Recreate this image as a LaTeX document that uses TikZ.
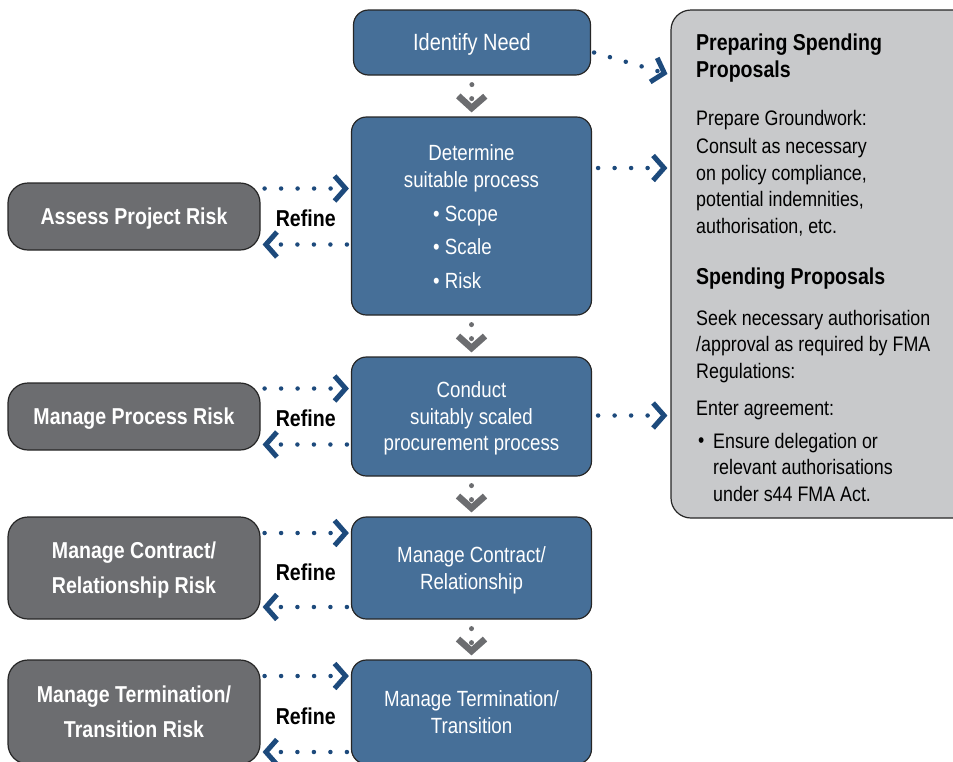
\documentclass[tikz,border=0pt]{standalone}
\usepackage{fontspec}
\setmainfont{Liberation Sans}[FakeStretch=0.85]
\usetikzlibrary{arrows.meta, positioning, calc}
\definecolor{boxblue}{RGB}{70,111,152}
\definecolor{riskgray}{RGB}{108,109,112}
\definecolor{panelgray}{RGB}{200,201,203}
\definecolor{arrowblue}{RGB}{29,74,124}

\begin{document}
\begin{tikzpicture}[x=1pt, y=-1pt,
    stagebox/.style={rectangle, rounded corners=15pt, draw=black!85, line width=1.2pt, fill=boxblue, text=white, align=center, minimum width=240pt, text depth=0pt, font=\fontsize{22}{26.5}\selectfont},
    stagetext/.style={text=white, align=center, inner sep=0pt, font=\fontsize{22}{26.5}\selectfont},
    riskbox/.style={rectangle, rounded corners=20pt, draw=black!85, line width=1.2pt, fill=riskgray, text=white, align=center, minimum width=252pt, text depth=0pt, font=\bfseries\fontsize{23}{35}\selectfont},
    panelbox/.style={rectangle, rounded corners=20pt, draw=black!85, line width=1.2pt, fill=panelgray, minimum width=314pt, minimum height=508pt},
    paneltext/.style={anchor=base west, align=left, inner sep=0pt, font=\fontsize{21}{26.5}\selectfont},
    panelhead/.style={anchor=base west, align=left, inner sep=0pt, font=\bfseries\fontsize{23}{27}\selectfont},
    refine/.style={font=\bfseries\fontsize{23}{27}\selectfont, inner sep=0pt},
    bluedots/.style={draw=arrowblue, line width=4.5pt, line cap=round, dash pattern=on 0pt off 16.5pt,
        -{Straight Barb[length=11pt, width=25pt, line width=5pt]}},
    graydots/.style={draw=riskgray, line width=5pt, line cap=round, dash pattern=on 0pt off 14pt,
        -{Straight Barb[length=12pt, width=27pt, line width=6.5pt]}, shorten <=9pt, shorten >=4pt}
]
\useasboundingbox (0,0) rectangle (953,761);

% main stages
\node[stagebox, minimum width=237pt, minimum height=65pt, text depth=2pt, font=\fontsize{23.5}{27}\selectfont] (idn) at (472,42.5) {Identify Need};
\node[stagebox, minimum height=198pt] (det) at (471.5,216) {};
\node[stagetext] (dettitle) at (471.5,168.5) {Determine\\suitable process};
\node[stagetext, align=left, anchor=west, font=\fontsize{22}{33.5}\selectfont] (detlist) at (433,247) {• Scope\\• Scale\\• Risk};
\node[stagebox, minimum height=119pt] (cond) at (471.5,416.5) {Conduct\\suitably scaled\\procurement process};
\node[stagebox, minimum height=102pt] (ctr) at (471.5,568) {Manage Contract/\\Relationship};
\node[stagebox, minimum height=104pt] (term) at (471.5,712) {Manage Termination/\\Transition};

% risks
\node[riskbox, minimum height=67pt] (arisk) at (134,216.5) {Assess Project Risk};
\node[riskbox, minimum height=67pt] (prisk) at (134,416.5) {Manage Process Risk};
\node[riskbox, minimum height=102pt] (crisk) at (134,568) {Manage Contract/\\Relationship Risk};
\node[riskbox, minimum height=104pt] (trisk) at (134,712) {Manage Termination/\\Transition Risk};

% spending proposals panel
\node[panelbox] (prep) at (828,264) {};
\node[panelhead] (prephead) at (696,77) {Preparing Spending\\Proposals};
\node[paneltext] (prepground) at (696,125) {Prepare Groundwork:};
\node[paneltext] (prepconsult) at (696,233) {Consult as necessary\\on policy compliance,\\potential indemnities,\\authorisation, etc.};
\node[panelhead] (sphead) at (696,284) {Spending Proposals};
\node[paneltext] (spseek) at (696,378) {Seek necessary authorisation\\/approval as required by FMA\\Regulations:};
\node[paneltext] (spenter) at (696,415) {Enter agreement:};
\node[paneltext] (spbullet) at (698,447) {•};
\node[paneltext] (spensure) at (713,501) {Ensure delegation or\\relevant authorisations\\under s44 FMA Act.};

% flow down
\draw[graydots] (idn.south) -- (det.north);
\draw[graydots] (det.south) -- (cond.north);
\draw[graydots] (cond.south) -- (ctr.north);
\draw[graydots] (ctr.south) -- (term.north);

% refine loops
\draw[bluedots, shorten <=4pt, shorten >=2pt] ($(arisk.east)+(0,-28)$) -- ($(det.west |- arisk.east)+(0,-28)$);
\draw[bluedots, shorten <=4pt, shorten >=2pt] ($(det.west |- arisk.east)+(0,28)$) -- ($(arisk.east)+(0,28)$);
\node[refine] at ($(arisk.east)!.5!(det.west |- arisk.east)+(0,2)$) {Refine};

\draw[bluedots, shorten <=4pt, shorten >=2pt] ($(prisk.east)+(0,-28)$) -- ($(cond.west |- prisk.east)+(0,-28)$);
\draw[bluedots, shorten <=4pt, shorten >=2pt] ($(cond.west |- prisk.east)+(0,28)$) -- ($(prisk.east)+(0,28)$);
\node[refine] at ($(prisk.east)!.5!(cond.west |- prisk.east)+(0,2)$) {Refine};

\draw[bluedots, shorten <=4pt, shorten >=2pt] ($(crisk.east)+(0,-35)$) -- ($(ctr.west |- crisk.east)+(0,-35)$);
\draw[bluedots, shorten <=4pt, shorten >=2pt] ($(ctr.west |- crisk.east)+(0,39)$) -- ($(crisk.east)+(0,39)$);
\node[refine] at ($(crisk.east)!.5!(ctr.west |- crisk.east)+(0,4)$) {Refine};

\draw[bluedots, shorten <=4pt, shorten >=2pt] ($(trisk.east)+(0,-36)$) -- ($(term.west |- trisk.east)+(0,-36)$);
\draw[bluedots, shorten <=4pt, shorten >=2pt] ($(term.west |- trisk.east)+(0,40)$) -- ($(trisk.east)+(0,40)$);
\node[refine] at ($(trisk.east)!.5!(term.west |- trisk.east)+(0,4)$) {Refine};

% to spending proposals
\draw[bluedots, shorten >=2pt] ($(idn.east)+(3,10)$) -- ($(prep.west |- idn.east)+(-1,32)$);
\draw[bluedots, shorten >=2pt] ($(det.east)+(6,-48)$) -- ($(prep.west |- det.east)+(-1,-48)$);
\draw[bluedots, shorten >=2pt] ($(cond.east)+(6,-1)$) -- ($(prep.west |- cond.east)+(-1,-1)$);

\end{tikzpicture}
\end{document}
